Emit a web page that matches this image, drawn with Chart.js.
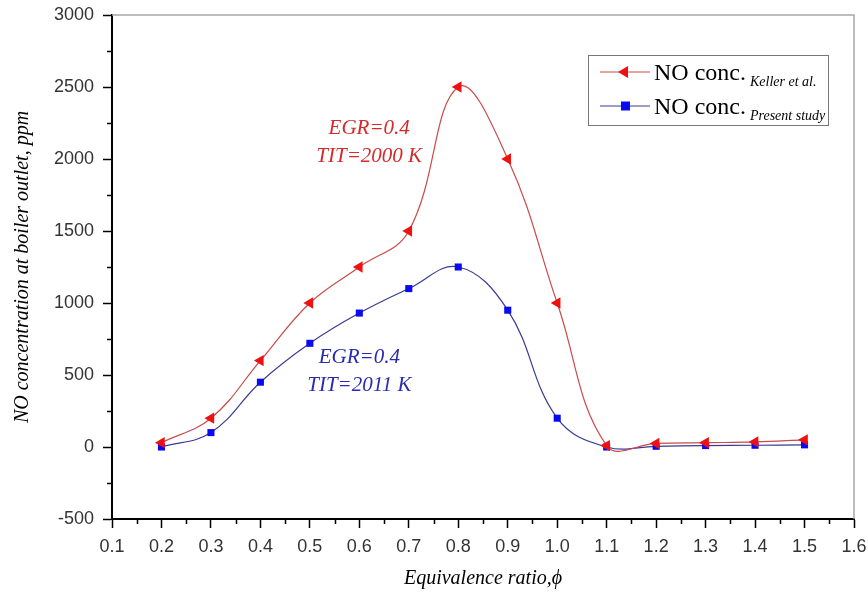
<!DOCTYPE html>
<html>
<head>
<meta charset="utf-8">
<script src="https://cdn.jsdelivr.net/npm/chart.js@4"></script>
<style>
  html, body { margin: 0; padding: 0; background: #fff; }
  #wrap { width: 868px; height: 601px; }
</style>
</head>
<body>
<div id="wrap"><canvas id="myChart" width="868" height="601"></canvas></div>
<script>
// Equivalence ratio values
const ratios = [0.2, 0.3, 0.4, 0.5, 0.6, 0.7, 0.8, 0.9, 1.0, 1.1, 1.2, 1.3, 1.4, 1.5];
// NO concentration, ppm
const kellerNO = [30, 200, 600, 1000, 1250, 1500, 2500, 2000, 1000, 10, 25, 30, 35, 50];
const presentNO = [0, 100, 450, 720, 930, 1100, 1250, 950, 200, 0, 5, 10, 12, 15];

const seriesLabels = ["Keller et al.", "Present study"];
const notes = [
  { lines: ["EGR=0.4", "TIT=2000 K"], x: 0.62, y: [2215, 2015], color: "#d42a2a" },
  { lines: ["EGR=0.4", "TIT=2011 K"], x: 0.60, y: [625, 430], color: "#2a2ab4" }
];

const serif = "'Liberation Serif', 'Times New Roman', serif";
const sans = "'Liberation Sans', Arial, sans-serif";

function toPoints(ys) {
  return ratios.map((r, i) => ({ x: r, y: ys[i] }));
}

// frame, minor ticks, notes and legend drawn on top
const extras = {
  id: "extras",
  afterDraw(chart) {
    const c = chart.ctx;
    const a = chart.chartArea;
    const xs = chart.scales.x, ys = chart.scales.y;
    c.save();
    // light frame on top and right
    c.strokeStyle = "#a8a8a8";
    c.lineWidth = 1.5;
    c.beginPath();
    c.moveTo(a.left, a.top);
    c.lineTo(a.right, a.top);
    c.lineTo(a.right, a.bottom);
    c.stroke();
    // minor ticks
    c.strokeStyle = "#000";
    c.lineWidth = 1.5;
    c.beginPath();
    for (let v = -250; v < 3000; v += 500) {
      const py = Math.round(ys.getPixelForValue(v)) + 0.5;
      c.moveTo(a.left - 5, py);
      c.lineTo(a.left, py);
    }
    for (let k = 3; k < 32; k += 2) {
      const px = Math.round(xs.getPixelForValue(k * 0.05)) + 0.5;
      c.moveTo(px, a.bottom);
      c.lineTo(px, a.bottom + 5);
    }
    c.stroke();

    // annotations
    c.font = "italic 21px " + serif;
    c.textAlign = "center";
    c.textBaseline = "middle";
    notes.forEach(n => {
      c.fillStyle = n.color;
      n.lines.forEach((t, i) => {
        c.fillText(t, xs.getPixelForValue(n.x), ys.getPixelForValue(n.y[i]));
      });
    });

    // legend box
    const bx = 588, by = 55, bw = 240, bh = 70;
    c.fillStyle = "#fff";
    c.fillRect(bx, by, bw, bh);
    c.strokeStyle = "#777";
    c.lineWidth = 1;
    c.strokeRect(bx + 0.5, by + 0.5, bw, bh);
    chart.data.datasets.forEach((ds, i) => {
      const ly = by + 17 + i * 34;
      c.strokeStyle = ds.borderColor;
      c.lineWidth = 1;
      c.beginPath();
      c.moveTo(bx + 12, ly);
      c.lineTo(bx + 62, ly);
      c.stroke();
      c.fillStyle = ds.pointBackgroundColor;
      c.beginPath();
      if (ds.pointStyle === "triangle") {
        c.moveTo(bx + 30, ly);
        c.lineTo(bx + 40, ly - 6);
        c.lineTo(bx + 40, ly + 6);
        c.closePath();
      } else {
        c.rect(bx + 33, ly - 4.5, 9, 9);
      }
      c.fill();
      c.fillStyle = "#000";
      c.textAlign = "left";
      c.textBaseline = "alphabetic";
      c.font = "24px " + serif;
      c.fillText("NO conc.", bx + 66, ly + 8);
      const w = c.measureText("NO conc. ").width;
      c.font = "italic 14px " + serif;
      c.fillText(seriesLabels[i], bx + 64 + w, ly + 14);
    });
    c.restore();
  }
};

const ctx = document.getElementById("myChart").getContext("2d");

const data = {
  datasets: [
    {
      label: "NO conc. " + seriesLabels[0],
      data: toPoints(kellerNO),
      borderColor: "#cc4a4a",
      borderWidth: 1.2,
      pointStyle: "triangle",
      pointRotation: -90,
      pointRadius: 6.5,
      pointBackgroundColor: "#ee1111",
      pointBorderColor: "#ee1111",
      pointBorderWidth: 0,
      tension: 0.4,
      fill: false
    },
    {
      label: "NO conc. " + seriesLabels[1],
      data: toPoints(presentNO),
      borderColor: "#3a3a94",
      borderWidth: 1.2,
      pointStyle: "rect",
      pointRadius: 5,
      pointBackgroundColor: "#0a0af0",
      pointBorderColor: "#0a0af0",
      pointBorderWidth: 0,
      tension: 0.4,
      fill: false
    }
  ]
};

const options = {
  responsive: false,
  animation: false,
  layout: { padding: { top: 15, right: 14, left: 0, bottom: 0 } },
  plugins: {
    legend: { display: false },
    tooltip: { enabled: false }
  },
  scales: {
    x: {
      type: "linear",
      min: 0.1,
      max: 1.6,
      // fixed axis band, no extra room for edge labels
      afterFit(s) { s.height = 82; s.paddingLeft = 0; s.paddingRight = 0; },
      border: { color: "#000", width: 2 },
      grid: {
        drawOnChartArea: false,
        tickLength: 9,
        tickWidth: 1.5,
        tickColor: c => Math.round(c.tick.value * 100) % 10 === 0 ? "#000" : "rgba(0,0,0,0)"
      },
      ticks: {
        stepSize: 0.05,
        autoSkip: false,
        maxRotation: 0,
        padding: 8,
        color: "#333",
        font: { family: sans, size: 18 },
        callback: v => Math.round(v * 100) % 10 === 0 ? v.toFixed(1) : ""
      },
      title: {
        display: true,
        text: "Equivalence ratio,\u03d5",
        color: "#000",
        font: { family: serif, size: 20, style: "italic" },
        padding: { top: 0, bottom: 10 }
      }
    },
    y: {
      min: -500,
      max: 3000,
      afterFit(s) { s.width = 112; s.paddingTop = 0; s.paddingBottom = 0; },
      border: { color: "#000", width: 2 },
      grid: {
        drawOnChartArea: false,
        tickLength: 9,
        tickWidth: 1.5,
        tickColor: c => c.tick.value % 500 === 0 ? "#000" : "rgba(0,0,0,0)"
      },
      ticks: {
        stepSize: 250,
        autoSkip: false,
        padding: 9,
        color: "#333",
        font: { family: sans, size: 18 },
        callback: v => v % 500 === 0 ? String(v) : ""
      },
      title: {
        display: true,
        text: "NO concentration at boiler outlet, ppm",
        color: "#000",
        font: { family: serif, size: 20, style: "italic" },
        padding: { top: 11, bottom: 0 }
      }
    }
  }
};

const myChart = new Chart(ctx, {
  type: "line",
  data: data,
  options: options,
  plugins: [extras]
});
</script>
</body>
</html>
